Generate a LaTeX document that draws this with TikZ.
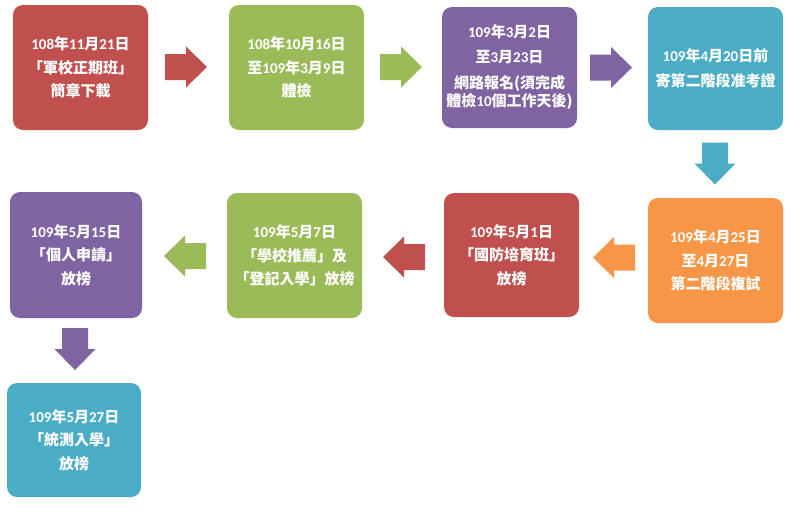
\documentclass[tikz,border=0pt]{standalone}
\usepackage{fontspec}
\setmainfont{Noto Sans CJK TC}
\newfontfamily\dgfont{Carlito}
\newcommand{\dg}[1]{{\dgfont\bfseries #1}}
\definecolor{cRed}{HTML}{C0504D}
\definecolor{cGreen}{HTML}{9BBB59}
\definecolor{cPurple}{HTML}{8064A2}
\definecolor{cTeal}{HTML}{4BACC6}
\definecolor{cOrange}{HTML}{F79646}
\tikzset{
  box/.style={rounded corners=10pt, minimum width=135pt, minimum height=125pt,
    text=white, font=\bfseries\fontsize{15}{23.5}\selectfont, align=center, inner sep=0pt},
  blockarr/.pic={\fill[#1] (-21,-13) -- (0,-13) -- (0,-20.5) -- (21,0) -- (0,20.5) -- (0,13) -- (-21,13) -- cycle;}
}
\begin{document}
\begin{tikzpicture}[x=1pt,y=-1pt]
\useasboundingbox[fill=white] (0,0) rectangle (794,512);
% row 1
\node[box, fill=cRed] (b1) at (80.5,67.5) {\dg{108}年\dg{11}月\dg{21}日\\「軍校正期班」\\簡章下載};
\node[box, fill=cGreen] (b2) at (296.5,67.5) {\dg{108}年\dg{10}月\dg{16}日\\至\dg{109}年\dg{3}月\dg{9}日\\體檢};
\node[box, fill=cPurple, minimum height=121pt] (b3) at (509.5,67.5) {\dg{109}年\dg{3}月\dg{2}日\\[1pt]至\dg{3}月\dg{23}日\\[3pt]網路報名(須完成\\[-5.5pt]體檢\dg{10}個工作天後)};
\node[box, fill=cTeal, minimum height=123pt] (b4) at (715.5,68.5) {\dg{109}年\dg{4}月\dg{20}日前\\[1pt]寄第二階段准考證};
% row 2
\node[box, fill=cOrange] (b5) at (715.5,260.5) {\dg{109}年\dg{4}月\dg{25}日\\至\dg{4}月\dg{27}日\\第二階段複試};
\node[box, fill=cRed, minimum height=124pt] (b6) at (511.5,255) {\dg{109}年\dg{5}月\dg{1}日\\「國防培育班」\\放榜};
\node[box, fill=cGreen] (b7) at (294.5,255.5) {\dg{109}年\dg{5}月\dg{7}日\\「學校推薦」及\\「登記入學」放榜};
\node[box, fill=cPurple, minimum width=132pt, minimum height=126pt] (b8) at (76,255) {\dg{109}年\dg{5}月\dg{15}日\\「個人申請」\\放榜};
% row 3
\node[box, fill=cTeal, minimum width=134pt, minimum height=114pt] (b9) at (74,440) {\dg{109}年\dg{5}月\dg{27}日\\「統測入學」\\放榜};
% block arrows
\pic (a1) at (186,67) {blockarr=cRed};
\pic (a2) at (401,67) {blockarr=cGreen};
\pic (a3) at (611,67.5) {blockarr=cPurple};
\pic[rotate=-90] (a4) at (715,163.5) {blockarr=cTeal};
\pic[rotate=180] (a5) at (614,257.5) {blockarr=cOrange};
\pic[rotate=180] (a6) at (404,257) {blockarr=cRed};
\pic[rotate=180] (a7) at (185,256) {blockarr=cGreen};
\pic[rotate=-90] (a8) at (75,349) {blockarr=cPurple};
\end{tikzpicture}
\end{document}
